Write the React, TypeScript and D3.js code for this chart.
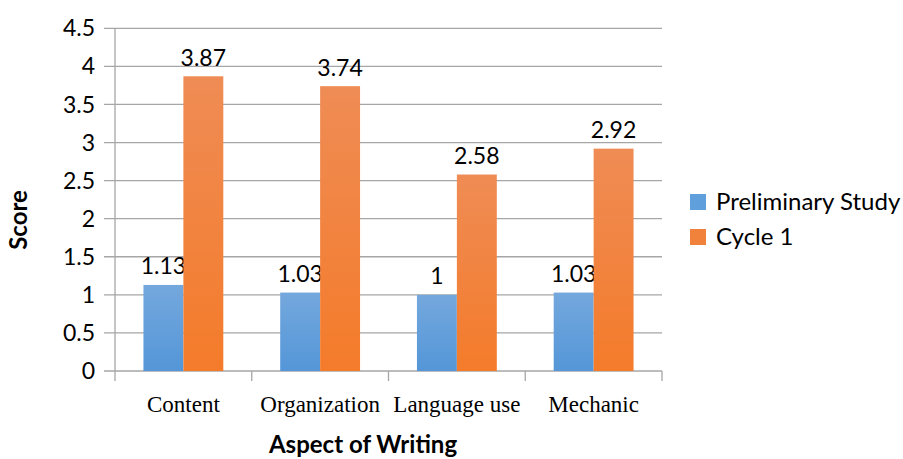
import React from "react";
import * as d3 from "d3";

const categories = ["Content", "Organization", "Language use", "Mechanic"];
const seriesNames = ["Preliminary Study", "Cycle 1"];
const preliminary = [1.13, 1.03, 1, 1.03];
const cycle1 = [3.87, 3.74, 2.58, 2.92];
const yTicks = [0, 0.5, 1, 1.5, 2, 2.5, 3, 3.5, 4, 4.5];

const W = 903;
const H = 459;
const left = 115;
const right = 662;
const top = 28.3;
const bottom = 371;

const sans = "Lato, 'Open Sans', sans-serif";
const serif = "'Liberation Serif', 'Times New Roman', serif";

export default function App() {
  const x0 = d3
    .scaleBand<string>()
    .domain(categories)
    .range([left, right])
    .paddingInner(0.416)
    .paddingOuter(0.208);
  const x1 = d3.scaleBand<string>().domain(seriesNames).range([0, x0.bandwidth()]);
  const y = d3.scaleLinear().domain([0, 4.5]).range([bottom, top]);
  const seriesData = [preliminary, cycle1];
  const grads = ["gBlue", "gOrange"];
  const legendColors = ["#5f9fdb", "#f0823b"];
  const step = x0.step();
  const bounds = d3.range(categories.length + 1).map((i) => left + i * step);

  return (
    <svg
      width={W}
      height={H}
      style={{ position: "absolute", left: 0, top: 0, background: "#fff" }}
    >
      <defs>
        <linearGradient id="gBlue" x1="0" y1="0" x2="0" y2="1">
          <stop offset="0%" stopColor="#74a8dd" />
          <stop offset="100%" stopColor="#5496d8" />
        </linearGradient>
        <linearGradient id="gOrange" x1="0" y1="0" x2="0" y2="1">
          <stop offset="0%" stopColor="#ef8c55" />
          <stop offset="100%" stopColor="#f47b2a" />
        </linearGradient>
      </defs>
      {/* gridlines */}
      {yTicks.map((t) => (
        <g key={t}>
          <line x1={104} x2={right} y1={y(t)} y2={y(t)} stroke="#a6a6a6" strokeWidth={1.3} />
          <text
            x={95}
            y={y(t)}
            dy="0.35em"
            textAnchor="end"
            fontFamily={sans}
            fontSize={23}
            fill="#000"
          >
            {t}
          </text>
        </g>
      ))}
      <line x1={left} x2={left} y1={top} y2={bottom} stroke="#a6a6a6" strokeWidth={1.3} />
      {bounds.map((bx, i) => (
        <line key={i} x1={bx} x2={bx} y1={bottom} y2={bottom + 10} stroke="#a6a6a6" strokeWidth={1.3} />
      ))}
      {/* bars */}
      {categories.map((c, i) => (
        <g key={c} transform={`translate(${x0(c)},0)`}>
          {seriesNames.map((s, j) => {
            const v = seriesData[j][i];
            return (
              <g key={s}>
                <rect
                  x={x1(s)}
                  y={y(v)}
                  width={x1.bandwidth()}
                  height={bottom - y(v)}
                  fill={`url(#${grads[j]})`}
                />
                <text
                  x={(x1(s) as number) + x1.bandwidth() / 2}
                  y={y(v) - 10.5}
                  textAnchor="middle"
                  fontFamily={sans}
                  fontSize={23}
                  fill="#000"
                >
                  {v}
                </text>
              </g>
            );
          })}
          <text
            x={x0.bandwidth() / 2}
            y={412}
            textAnchor="middle"
            fontFamily={serif}
            fontSize={23}
            fill="#000"
          >
            {c}
          </text>
        </g>
      ))}
      {/* axis titles */}
      <text
        transform={`translate(27,220) rotate(-90)`}
        textAnchor="middle"
        fontFamily={sans}
        fontWeight="bold"
        fontSize={24}
        fill="#000"
      >
        Score
      </text>
      <text
        x={363}
        y={453}
        textAnchor="middle"
        fontFamily={sans}
        fontWeight="bold"
        fontSize={24}
        fill="#000"
      >
        Aspect of Writing
      </text>
      {/* legend */}
      {seriesNames.map((s, j) => (
        <g key={s} transform={`translate(690,${202 + j * 35})`}>
          <rect x={0} y={-8} width={16} height={16} fill={legendColors[j]} />
          <text x={26} y={0} dy="0.35em" fontFamily={sans} fontSize={24} fill="#000">
            {s}
          </text>
        </g>
      ))}
    </svg>
  );
}
